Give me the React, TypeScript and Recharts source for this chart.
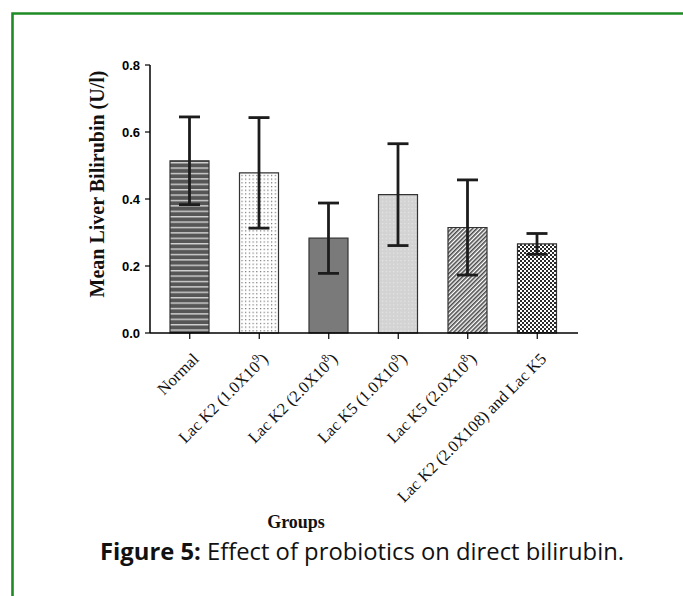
import React from "react";
import { BarChart, Bar, XAxis, YAxis, ErrorBar, Cell } from "recharts";

// "^" marks the superscript exponent in a group name
const groups = [
  "Normal",
  "Lac K2 (1.0X10^9)",
  "Lac K2 (2.0X10^8)",
  "Lac K5 (1.0X10^9)",
  "Lac K5 (2.0X10^8)",
  "Lac K2 (2.0X108) and Lac K5",
];
const means = [0.514, 0.478, 0.283, 0.413, 0.315, 0.266];
const sems = [0.131, 0.165, 0.105, 0.152, 0.142, 0.031];
const yTicks = [0, 0.2, 0.4, 0.6, 0.8];

const barFills = [
  "url(#hStripe)",
  "url(#fineDots)",
  "#7a7a7a",
  "url(#greyDots)",
  "url(#hatch)",
  "url(#check)",
];

const data = groups.map((g, i) => ({ group: g, mean: means[i], sem: sems[i] }));

const SERIF = "'Liberation Serif', 'Times New Roman', serif";
const SANS = "'Liberation Sans', Arial, sans-serif";

function GroupTick(props: any) {
  const { x, y, payload } = props;
  const [head, rest] = String(payload.value).split("^");
  return (
    <g transform={`translate(${x + 10},${y + 19}) rotate(-45)`}>
      <text textAnchor="end" fontFamily={SERIF} fontSize={16.5} fill="#111">
        {rest === undefined ? (
          head
        ) : (
          <>
            {head}
            <tspan dy={-7} fontSize={11.5}>
              {rest[0]}
            </tspan>
            <tspan dy={7}>{rest.slice(1)}</tspan>
          </>
        )}
      </text>
    </g>
  );
}

function YTitle(props: any) {
  const vb = props.viewBox || { x: 80, y: 65, width: 70, height: 268 };
  const cx = vb.x + 24;
  const cy = vb.y + vb.height / 2 - 15;
  return (
    <text
      transform={`translate(${cx},${cy}) rotate(-90)`}
      textAnchor="middle"
      fontFamily={SERIF}
      fontWeight="bold"
      fontSize={20}
      fill="#111"
    >
      Mean Liver Bilirubin (U/l)
    </text>
  );
}

export default function App() {
  return (
    <div style={{ position: "absolute", left: 0, top: 0, width: 683, height: 596, background: "#fff" }}>
      <BarChart
        width={683}
        height={596}
        data={data}
        margin={{ top: 65, right: 105, bottom: 203, left: 80 }}
      >
        <defs>
          <pattern id="hStripe" width="6" height="5.4" patternUnits="userSpaceOnUse">
            <rect width="6" height="5.4" fill="#565656" />
            <rect y="0" width="6" height="1.4" fill="#d2d2d2" />
          </pattern>
          <pattern id="fineDots" width="3.7" height="3.7" patternUnits="userSpaceOnUse">
            <rect width="3.7" height="3.7" fill="#fff" />
            <rect x="1" y="1" width="1.1" height="1.1" fill="#555" />
          </pattern>
          <pattern id="greyDots" width="3.7" height="3.7" patternUnits="userSpaceOnUse">
            <rect width="3.7" height="3.7" fill="#d3d3d3" />
            <rect x="1" y="1" width="1.1" height="1.1" fill="#ececec" />
          </pattern>
          <pattern
            id="hatch"
            width="3"
            height="3"
            patternUnits="userSpaceOnUse"
            patternTransform="rotate(45)"
          >
            <rect width="3" height="3" fill="#fff" />
            <rect width="1.6" height="3" fill="#4a4a4a" />
          </pattern>
          <pattern id="check" width="4" height="4" patternUnits="userSpaceOnUse">
            <rect width="4" height="4" fill="#fff" />
            <rect x="0" y="0" width="2" height="2" fill="#2a2a2a" />
            <rect x="2" y="2" width="2" height="2" fill="#2a2a2a" />
            <path d="M0 4 L4 0" stroke="#fff" strokeWidth="0.7" />
          </pattern>
        </defs>
        <XAxis
          dataKey="group"
          height={60}
          padding={{ left: 5, right: 6 }}
          interval={0}
          tickSize={6}
          tick={<GroupTick />}
          axisLine={{ stroke: "#000", strokeWidth: 1.5 }}
          tickLine={{ stroke: "#000", strokeWidth: 1.2 }}
        />
        <YAxis
          width={70}
          domain={[0, 0.8]}
          ticks={yTicks}
          tickFormatter={(v: number) => v.toFixed(1)}
          tickSize={5}
          tickMargin={5}
          tick={{ fontFamily: SANS, fontWeight: "bold", fontSize: 13, fill: "#000" }}
          axisLine={{ stroke: "#000", strokeWidth: 1.5 }}
          tickLine={{ stroke: "#000", strokeWidth: 1.2 }}
          label={<YTitle />}
        />
        <Bar dataKey="mean" barSize={39} stroke="#333" strokeWidth={1.2} isAnimationActive={false}>
          {data.map((d, i) => (
            <Cell key={d.group} fill={barFills[i]} />
          ))}
          <ErrorBar dataKey="sem" width={10.5} strokeWidth={2.8} stroke="#1c1c1c" direction="y" />
        </Bar>
      </BarChart>
      <svg
        width={683}
        height={596}
        style={{ position: "absolute", left: 0, top: 0, pointerEvents: "none" }}
      >
        <path d="M12.5 596 L12.5 13.5 L683 13.5" fill="none" stroke="#1f8b24" strokeWidth={2.6} />
        <text x={296} y={528} textAnchor="middle" fontFamily={SERIF} fontWeight="bold" fontSize={18} fill="#111">
          Groups
        </text>
        <text
          x={362}
          y={560}
          textAnchor="middle"
          fontFamily="'Open Sans', 'Noto Sans', sans-serif"
          fontSize={23}
          fill="#111"
          textLength={524}
          lengthAdjust="spacingAndGlyphs"
        >
          <tspan fontWeight="bold">Figure 5:</tspan> Effect of probiotics on direct bilirubin.
        </text>
      </svg>
    </div>
  );
}
